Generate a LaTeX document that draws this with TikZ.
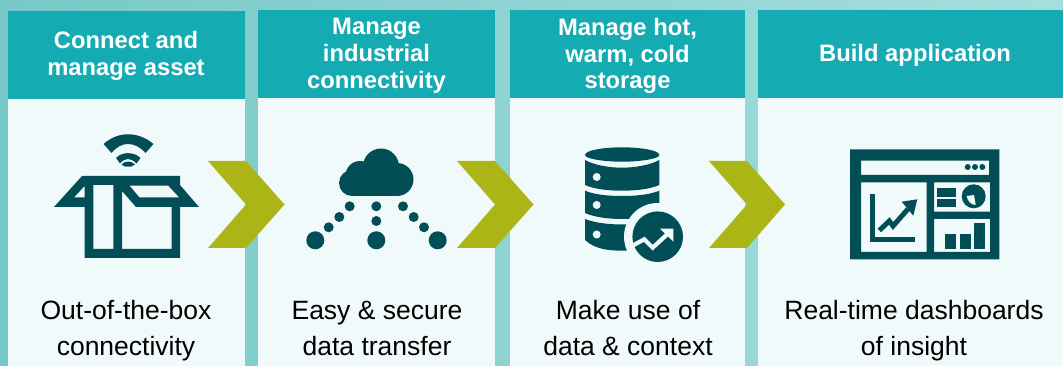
\documentclass[tikz,border=0pt]{standalone}
\usepackage{fontspec}
\setmainfont{Liberation Sans}
\definecolor{dk}{HTML}{024E57}
\definecolor{hdr}{HTML}{14ABB3}
\definecolor{body}{HTML}{F1FAFA}
\definecolor{arr}{HTML}{ABB516}
\definecolor{bgl}{HTML}{76C9C8}
\definecolor{bgr}{HTML}{A6DEDE}
\newcommand\lineph{\vphantom{Agy}}
\tikzset{
 panel/.style={fill=body,draw=none},
 head/.style={fill=hdr,draw=none},
 htext/.style={text=white,font=\fontsize{23.8}{26.8}\selectfont\bfseries,align=center,inner sep=0pt},
 btext/.style={text=black,font=\fontsize{26.5}{36}\selectfont,align=center,inner sep=0pt},
 chev/.style={fill=arr,draw=none},
 ic/.style={fill=dk,draw=none},
}
\begin{document}
\begin{tikzpicture}[x=1pt,y=-1pt]
\useasboundingbox (0,0) rectangle (1063,366);
\shade[left color=bgl,right color=bgr] (0,0) rectangle (1063,366);
% panels
\fill[panel] (8,99) rectangle (245,366);
\fill[panel] (258,98) rectangle (495,366);
\fill[panel] (510,98) rectangle (745,366);
\fill[panel] (757.5,98) rectangle (1063,366);
\fill[head] (8,11) rectangle (245,99);
\fill[head] (258,10) rectangle (495,98);
\fill[head] (510,10) rectangle (745,98);
\fill[head] (757.5,10) rectangle (1063,98);
% headers
\node[htext] (h1) at (126,56.3) {\lineph Connect and\\manage asset\lineph};
\node[htext] (h2) at (376.5,56) {\lineph Manage\\industrial\\connectivity\lineph};
\node[htext] (h3) at (627.5,56) {\lineph Manage hot,\\warm, cold\\storage\lineph};
\node[htext] (h4) at (915,55.5) {\lineph Build application\lineph};
% body text
\node[btext] (b1) at (126,331) {\lineph Out-of-the-box\\connectivity\lineph};
\node[btext] (b2) at (377,331) {\lineph Easy \& secure\\data transfer\lineph};
\node[btext] (b3) at (628,331) {\lineph Make use of\\data \& context\lineph};
\node[btext] (b4) at (914,331) {\lineph Real-time dashboards\\of insight\lineph};
% chevrons
\fill[chev] (208,161) -- (246,161) -- (284.5,204.5) -- (246,248) -- (208,248) -- (246,204.5) -- cycle;
\fill[chev] (457,161) -- (495,161) -- (533.5,204.5) -- (495,248) -- (457,248) -- (495,204.5) -- cycle;
\fill[chev] (709,161) -- (747,161) -- (785,204.5) -- (747,248) -- (709,248) -- (747,204.5) -- cycle;
% box icon
\fill[ic] (103.5,144) .. controls (118,131) and (138,131) .. (153.5,144) -- (145.5,153) .. controls (135,141) and (121,141) .. (111.5,153) -- cycle;
\fill[ic] (116,158) .. controls (122,151.5) and (134,151.5) .. (140.5,158) -- (136.5,163.5) .. controls (131,157.5) and (125,157.5) .. (120,163.5) -- cycle;
\fill[ic] (121.5,164.5) .. controls (125,160.5) and (131,160.5) .. (135,164.5) -- (131,166.7) -- (125,166.7) -- cycle;
\fill[ic,even odd rule] (82,176) -- (180,176) -- (180,185) -- (199,207) -- (180,207) -- (180,258) -- (84.7,258) -- (84.7,207) -- (54,207) -- cycle
 (84.5,186) -- (84.5,197.5) -- (74,197.5) -- cycle
 (93.3,185) -- (113.3,185) -- (113.3,249) -- (93.3,249) -- cycle
 (122,191) -- (136,207) -- (171.5,207) -- (171.5,249) -- (122,249) -- cycle
 (129.5,185.7) -- (168.3,185.7) -- (179.3,197.5) -- (139.5,197.5) -- cycle;
% cloud icon
\fill[ic] (381,166.5) circle[radius=18];
\fill[ic] (360,175.5) circle[radius=14.5];
\fill[ic] (352,183) circle[radius=13];
\fill[ic] (397,179.5) circle[radius=16.5];
\fill[ic] (352,170) rectangle (397,196);
\foreach \x/\y/\r in {349.7/206.3/5,339.3/217/5,328.7/227.3/5,315.3/240.3/9,376.3/206.3/5,376.3/221/5,376.3/240.3/9,403/206.3/5,413.7/217/5,424/227.3/5,437.7/240.3/9}{\fill[ic] (\x,\y) circle[radius=\r];}
% database icon
\fill[ic] (585,155) .. controls (585,150) and (605,147.3) .. (622,147.3) .. controls (639,147.3) and (659.3,150) .. (659.3,155) .. controls (659.3,159) and (639,161.7) .. (622,161.7) .. controls (605,161.7) and (585,159) .. (585,155) -- cycle;
\fill[ic] (585,160) .. controls (595,165.5) and (610,167.7) .. (622,167.7) .. controls (634,167.7) and (649,165.5) .. (659.3,160) -- (659.3,185) .. controls (649,189.5) and (634,190.7) .. (622,190.7) .. controls (610,190.7) and (595,189.5) .. (585,185) -- cycle;
\fill[ic] (585,190.7) .. controls (595,195) and (610,196) .. (622,196) .. controls (634,196) and (649,195) .. (659.3,190.7) -- (659.3,213) .. controls (649,217.5) and (634,219) .. (622,219) .. controls (610,219) and (595,217.5) .. (585,213) -- cycle;
\fill[ic] (585,219) .. controls (595,223) and (610,224.5) .. (622,224.5) .. controls (634,224.5) and (649,223) .. (659.3,219) -- (659.3,245) .. controls (649,249.5) and (634,250.7) .. (622,250.7) .. controls (610,250.7) and (595,249.5) .. (585,240) -- cycle;
\foreach \y in {177,205,234.5}{\fill[body] (596.7,\y) circle[radius=4];}
\fill[body] (657.7,236.7) circle[radius=33.7];
\fill[ic] (657.7,236.7) circle[radius=25.3];
\draw[body,line width=4.2pt,miter limit=10] (630,247) -- (644.3,239.3) -- (652.7,247.7) -- (668.3,233.3);
\fill[body] (660,228.7) -- (673.3,228.7) -- (673.3,241.7) -- cycle;
% dashboard icon
\fill[ic,even odd rule] (850,149.3) rectangle (999.3,259.3)
 (861,160.7) rectangle (989,175)
 (861,182.3) rectangle (926.7,252)
 (934,182.3) rectangle (990,211.7)
 (934,219) rectangle (990,252);
\foreach \x in {967.7,975,982.3}{\fill[ic] (\x,167) circle[radius=3];}
\fill[ic] (869.7,194) rectangle (875,241.7);
\fill[ic] (869.7,236.7) rectangle (915,241.7);
\draw[dk,line width=5pt] (879.3,230.5) -- (889.3,221) -- (893,226) -- (908,209);
\fill[ic] (901.7,201.7) -- (917.3,199.3) -- (913.3,215.7) -- cycle;
\fill[ic] (937,188.3) rectangle (956,196.7);
\fill[ic] (937,199) rectangle (956,207);
\fill[ic] (973.7,196.3) circle[radius=12];
\fill[body] (966.7,196) -- (974,195) -- (975.7,205) .. controls (971,205) and (967.5,201) .. (966.7,196) -- cycle;
\fill[ic] (945,234) rectangle (956,249);
\fill[ic] (960,234) rectangle (971,249);
\fill[ic] (974,223) rectangle (985,249);
\end{tikzpicture}
\end{document}
